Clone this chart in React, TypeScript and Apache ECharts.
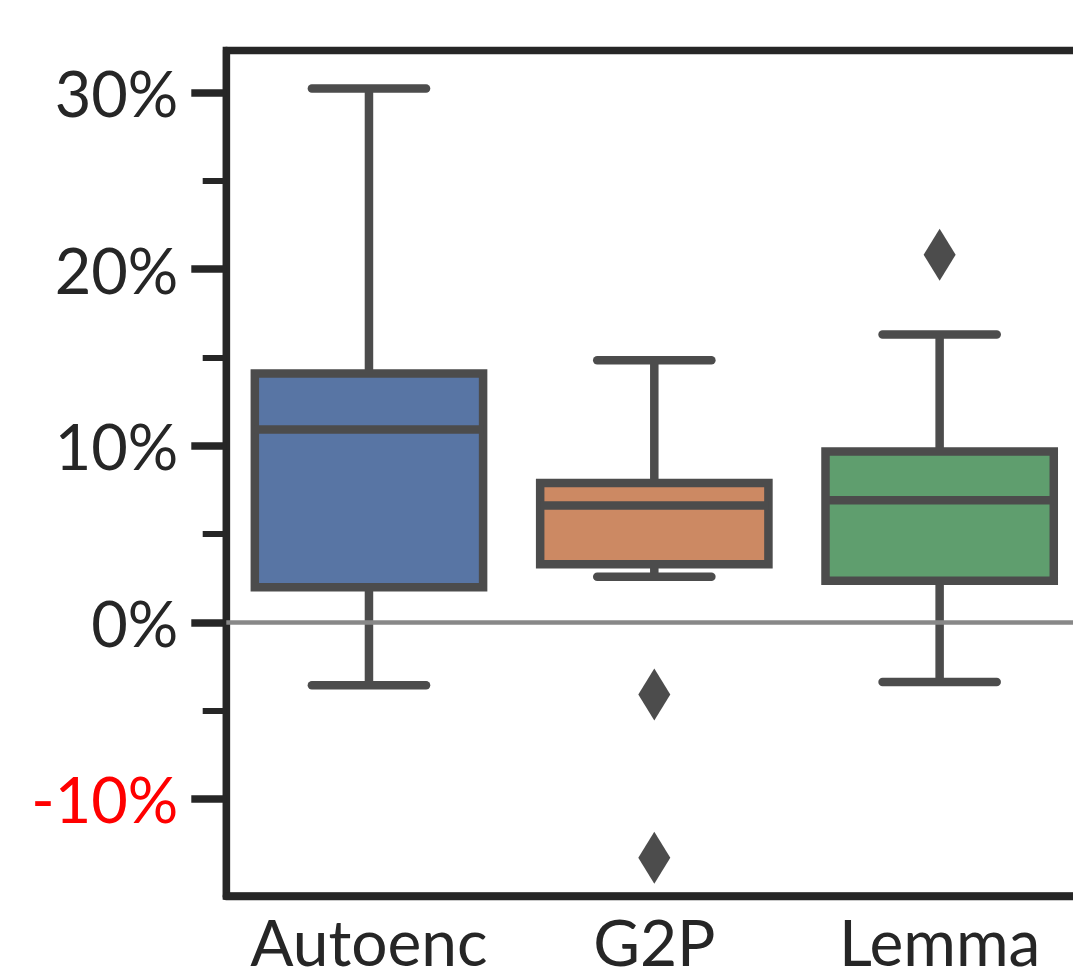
import React, { useEffect, useRef } from "react";
import * as echarts from "echarts";

const categories = ["Autoenc", "G2P", "Lemma"];
const whiskerLow = [-3.57, 2.58, -3.38];
const q1 = [1.99, 3.29, 2.35];
const median = [10.92, 6.61, 6.91];
const q3 = [14.09, 7.89, 9.67];
const whiskerHigh = [30.23, 14.84, 16.3];
const outlierCategory = [1, 1, 2];
const outlierValue = [-4.09, -13.34, 20.81];
const majorTicks = [-10, 0, 10, 20, 30];
const minorTicks = [-5, 5, 15, 25];
const boxColors = ["#5875a4", "#cc8963", "#5f9e6e"];

const LINE = "#4c4c4c";
const SPINE = "#262626";
const FONT = "Lato";
const CHART_W = 1100;

export default function App() {
  const ref = useRef<HTMLDivElement>(null);
  useEffect(() => {
    if (!ref.current) return;
    const chart = echarts.init(ref.current, null, { renderer: "svg" });
    const lw = 8.5;
    const boxData = categories.map((_, i) => [i, whiskerLow[i], q1[i], median[i], q3[i], whiskerHigh[i]]);
    const outData = outlierCategory.map((c, i) => [c, outlierValue[i]]);
    const yMin = -15.5;
    const yMax = 32.38;
    chart.setOption({
      animation: false,
      backgroundColor: "#ffffff",
      grid: {
        left: 226.3,
        right: CHART_W - 1082.3,
        top: 50.5,
        bottom: 73,
        show: true,
        borderColor: SPINE,
        borderWidth: 7.3,
        backgroundColor: "transparent",
      },
      xAxis: {
        type: "category",
        data: categories,
        boundaryGap: true,
        axisLine: { show: true, onZero: false, lineStyle: { color: SPINE, width: 7.3 } },
        axisTick: { show: false },
        splitLine: { show: false },
        axisLabel: {
          interval: 0,
          color: SPINE,
          fontFamily: FONT,
          fontSize: 64,
          lineHeight: 40,
          margin: 25,
        },
      },
      yAxis: [
        {
          type: "value",
          min: yMin,
          max: yMax,
          position: "left",
          axisLine: { show: true, lineStyle: { color: SPINE, width: 7.3 } },
          axisTick: {
            show: true,
            customValues: majorTicks,
            length: 35,
            lineStyle: { color: SPINE, width: 7.5 },
          },
          axisLabel: {
            show: true,
            customValues: majorTicks,
            margin: 48,
            fontFamily: FONT,
            fontSize: 63,
            formatter: (v: number) => `${v}%`,
            color: (v: any) => (parseFloat(v) < 0 ? "#ff0000" : SPINE),
          },
          splitLine: { show: false },
        },
        {
          type: "value",
          min: yMin,
          max: yMax,
          position: "left",
          axisLine: { show: false },
          axisTick: {
            show: true,
            customValues: minorTicks,
            length: 23.6,
            lineStyle: { color: SPINE, width: 6 },
          },
          axisLabel: { show: false },
          splitLine: { show: false },
        },
      ],
      series: [
        {
          type: "scatter",
          z: 1,
          yAxisIndex: 0,
          data: outData,
          symbol: "diamond",
          symbolSize: [32, 52],
          itemStyle: { color: LINE, opacity: 1 },
          silent: true,
          markLine: {
            silent: true,
            symbol: ["none", "none"],
            label: { show: false },
            lineStyle: { color: "#888888", width: 4.5, type: "solid" },
            data: [{ yAxis: 0 }],
          },
        },
        {
          type: "custom",
          z: 3,
          yAxisIndex: 0,
          data: boxData,
          encode: { x: 0, y: [1, 2, 3, 4, 5] },
          renderItem: (params: any, api: any) => {
            const idx = api.value(0);
            const bandW = api.size([1, 0])[0];
            const boxW = bandW * 0.8;
            const capW = boxW * 0.5;
            const x = api.coord([idx, api.value(1)])[0];
            const yLo = api.coord([idx, api.value(1)])[1];
            const yQ1 = api.coord([idx, api.value(2)])[1];
            const yMed = api.coord([idx, api.value(3)])[1];
            const yQ3 = api.coord([idx, api.value(4)])[1];
            const yHi = api.coord([idx, api.value(5)])[1];
            const lineStyle = { stroke: LINE, lineWidth: lw, fill: null };
            return {
              type: "group",
              children: [
                { type: "line", shape: { x1: x, y1: yQ3, x2: x, y2: yHi }, style: { ...lineStyle, lineCap: "butt" } },
                { type: "line", shape: { x1: x, y1: yQ1, x2: x, y2: yLo }, style: { ...lineStyle, lineCap: "butt" } },
                { type: "line", shape: { x1: x - capW / 2, y1: yHi, x2: x + capW / 2, y2: yHi }, style: { ...lineStyle, lineCap: "round" } },
                { type: "line", shape: { x1: x - capW / 2, y1: yLo, x2: x + capW / 2, y2: yLo }, style: { ...lineStyle, lineCap: "round" } },
                {
                  type: "rect",
                  shape: { x: x - boxW / 2, y: yQ3, width: boxW, height: yQ1 - yQ3 },
                  style: { fill: boxColors[idx], stroke: LINE, lineWidth: lw, lineJoin: "miter" },
                },
                { type: "line", shape: { x1: x - boxW / 2, y1: yMed, x2: x + boxW / 2, y2: yMed }, style: { ...lineStyle, lineCap: "butt" } },
              ],
            };
          },
        },
      ],
    });
    return () => chart.dispose();
  }, []);
  return (
    <div
      style={{ position: "fixed", left: 0, top: 0, width: 1073, height: 973, overflow: "hidden" }}
    >
      <div ref={ref} style={{ width: CHART_W, height: 973 }} />
    </div>
  );
}
